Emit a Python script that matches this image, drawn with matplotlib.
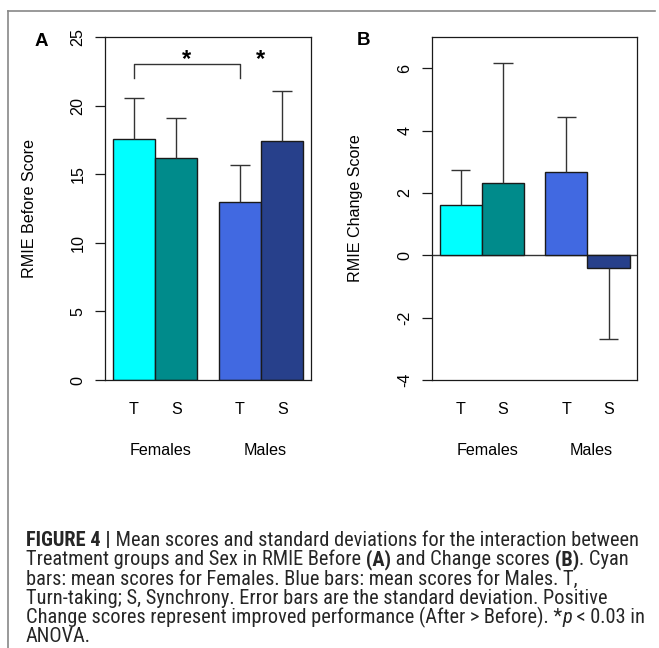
import matplotlib
matplotlib.use("Agg")
import matplotlib.pyplot as plt
from matplotlib.lines import Line2D

# ---------------- data ----------------
treatments = ["T", "S", "T", "S"]
groups = ["Females", "Males"]
bar_colors = ["#00FFFF", "#008B8B", "#4169E1", "#27408B"]

before_mean = [17.6, 16.15, 13.0, 17.4]
before_sd = [2.95, 2.95, 2.65, 3.65]

change_mean = [1.6, 2.33, 2.67, -0.4]
change_sd = [1.13, 3.83, 1.75, 2.3]

before_ticks = [0, 5, 10, 15, 20, 25]
change_ticks = [-4, -2, 0, 2, 4, 6]

# ---------------- style ----------------
W, H = 659, 648
CH_FONT = ["Liberation Sans", "DejaVu Sans"]
FS = 11.6
CAP_FONT = ["Roboto Condensed", "Liberation Sans Narrow",
            "Liberation Sans", "DejaVu Sans"]

plt.rcParams["font.family"] = CH_FONT

fig = plt.figure(figsize=(W / 100, H / 100), dpi=100)

edge = "#1a1a1a"
err_col = "#333333"

bar_x = [0.5, 1.5, 3.0, 4.0]
group_x = [1.13, 3.6]


def px_axes(l, t, r, b):
    return fig.add_axes([l / W, 1 - b / H, (r - l) / W, (b - t) / H])


def draw_panel(ax, means, sds, ylim, ticks, ylabel):
    ax.bar(bar_x, means, width=1.0, color=bar_colors, edgecolor=edge,
           linewidth=1.0, zorder=2)
    ends = [m + (s if m >= 0 else -s) for m, s in zip(means, sds)]
    ax.vlines(bar_x, means, ends, color=err_col, linewidth=1.0, zorder=3)
    ax.hlines(ends, [x - 0.23 for x in bar_x], [x + 0.23 for x in bar_x],
              color=err_col, linewidth=1.0, zorder=3)
    ax.set_xlim(-0.18, 4.68)
    ax.set_ylim(*ylim)
    ax.set_yticks(ticks)
    ax.set_yticklabels([str(t) for t in ticks])
    ax.tick_params(axis="y", length=7.2, width=0.9, color=edge, pad=7,
                   labelsize=FS, labelrotation=90, direction="out")
    for lab in ax.get_yticklabels():
        lab.set_va("center")
    ax.set_xticks(bar_x)
    ax.set_xticklabels(treatments)
    ax.tick_params(axis="x", length=0, pad=16, labelsize=FS)
    for sp in ax.spines.values():
        sp.set_color(edge)
        sp.set_linewidth(0.9)
    ax.set_ylabel(ylabel, fontsize=FS, labelpad=14)
    for gx, g in zip(group_x, groups):
        ax.annotate(g, xy=(gx, 0), xycoords=("data", "axes fraction"),
                    xytext=(0, -50.4), textcoords="offset points",
                    ha="center", va="center", fontsize=FS)


axA = px_axes(105, 37, 311, 380)
draw_panel(axA, before_mean, before_sd, (0, 25), before_ticks, "RMIE Before Score")
axA.yaxis.set_label_coords((36.7 - 105) / 206, 0.5)

# significance bracket and stars
axA.plot([bar_x[0], bar_x[0], bar_x[2], bar_x[2]], [22, 23, 23, 22],
         color=err_col, linewidth=1.0, clip_on=False)
axA.text((bar_x[0] + bar_x[2]) / 2, 23.33, "*", ha="center", va="center",
         fontsize=17, fontweight="bold")
axA.text(3.5, 23.33, "*", ha="center", va="center", fontsize=17,
         fontweight="bold")

axB = px_axes(432, 37, 637.3, 380)
draw_panel(axB, change_mean, change_sd, (-4, 7), change_ticks, "RMIE Change Score")
axB.axhline(0, color=err_col, linewidth=1.0, zorder=1)
axB.yaxis.set_label_coords((363 - 432) / 205.3, 0.5)

fig.text(41.7 / W, 1 - 41.5 / H, "A", fontsize=13.5, fontweight="bold",
         ha="center", va="center")
fig.text(363 / W, 1 - 40.5 / H, "B", fontsize=13.5, fontweight="bold",
         ha="center", va="center")

# outer frame (left and top lines)
fig.add_artist(Line2D([8 / W, 8 / W], [0, 1 - 11 / H], transform=fig.transFigure,
                      color="#888888", linewidth=1.2))
fig.add_artist(Line2D([8 / W, 655 / W], [1 - 11 / H, 1 - 11 / H],
                      transform=fig.transFigure, color="#888888", linewidth=1.2))

# ---------------- caption ----------------
caption = [
    [("FIGURE 4 |", "bold"), (" Mean scores and standard deviations for the interaction between", "normal")],
    [("Treatment groups and Sex in RMIE Before", "normal"), (" (A)", "bold"),
     (" and Change scores", "normal"), (" (B)", "bold"), (". Cyan", "normal")],
    [("bars: mean scores for Females. Blue bars: mean scores for Males. T,", "normal")],
    [("Turn-taking; S, Synchrony. Error bars are the standard deviation. Positive", "normal")],
    [("Change scores represent improved performance (After > Before). *", "normal"),
     ("p", "italic"), (" < 0.03 in", "normal")],
    [("ANOVA.", "normal")],
]
ref_total_width = 2941  # summed pixel width of caption lines 1-5
cap_color = "#262626"
renderer = fig.canvas.get_renderer()


def draw_line(pieces, x0, ybase, size, draw=True):
    x = x0
    arts = []
    for txt, style in pieces:
        kw = dict(fontsize=size, family=CAP_FONT, color=cap_color,
                  ha="left", va="baseline")
        if style == "bold":
            kw["fontweight"] = "bold"
        if style == "italic":
            kw["fontstyle"] = "italic"
        t = fig.text(x / W, 1 - ybase / H, txt, **kw)
        bb = t.get_window_extent(renderer)
        arts.append(t)
        x = bb.x1
    if not draw:
        for a in arts:
            a.remove()
    return x - x0


w0 = sum(draw_line(caption[i], 26, 546, 10, draw=False) for i in range(5))
cap_size = 10 * ref_total_width / w0
for i, line in enumerate(caption):
    draw_line(line, 26, 546 + i * 19.25, cap_size)

fig.savefig("out.png", dpi=100)
